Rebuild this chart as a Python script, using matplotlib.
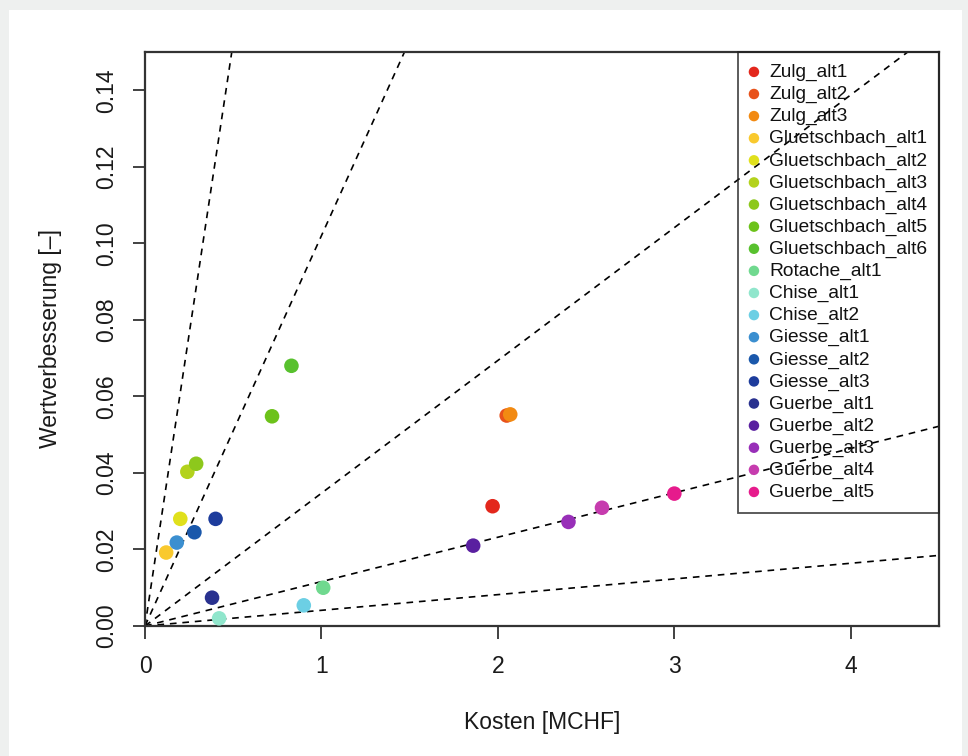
import matplotlib.pyplot as plt
from matplotlib.patches import Rectangle
import numpy as np

plt.rcParams['font.family'] = ['Liberation Sans', 'DejaVu Sans']

# Varianten
namen = ["Zulg_alt1", "Zulg_alt2", "Zulg_alt3",
         "Gluetschbach_alt1", "Gluetschbach_alt2", "Gluetschbach_alt3",
         "Gluetschbach_alt4", "Gluetschbach_alt5", "Gluetschbach_alt6",
         "Rotache_alt1", "Chise_alt1", "Chise_alt2",
         "Giesse_alt1", "Giesse_alt2", "Giesse_alt3",
         "Guerbe_alt1", "Guerbe_alt2", "Guerbe_alt3", "Guerbe_alt4", "Guerbe_alt5"]
kosten = [1.97, 2.05, 2.07,
          0.12, 0.20, 0.24,
          0.29, 0.72, 0.83,
          1.01, 0.42, 0.90,
          0.18, 0.28, 0.40,
          0.38, 1.86, 2.40, 2.59, 3.00]
wert = [0.0313, 0.0550, 0.0553,
        0.0192, 0.0280, 0.0403,
        0.0424, 0.0548, 0.0680,
        0.0100, 0.0020, 0.0054,
        0.0218, 0.0245, 0.0280,
        0.0074, 0.0210, 0.0272, 0.0309, 0.0346]
farben = ["#e3271c", "#e8521b", "#f28a12",
          "#f9c92e", "#e0e01c", "#b3d21c",
          "#8dc81c", "#6cc21a", "#58c12e",
          "#70d98f", "#90e6cc", "#6ccfe4",
          "#3b8fd0", "#1a58ab", "#1d3c9c",
          "#29318f", "#5a20a0", "#982fb8", "#c63cae", "#e61b8c"]

# Steigungen der Referenzlinien (Wert pro MCHF)
steigungen = [0.305, 0.102, 0.0347, 0.0116, 0.0041]

fig = plt.figure(figsize=(9.68, 7.56), dpi=100, facecolor="#eef0ef")
fig.patches.append(Rectangle((9/968, 0), (962-9)/968, (756-10)/756,
                             transform=fig.transFigure, facecolor="white",
                             edgecolor="none", zorder=-10))
ax = fig.add_axes([145/968, 130/756, (939-145)/968, (626-52)/756])
ax.set_facecolor("white")

xs = np.array([0, 5])
for s in steigungen:
    ax.plot(xs, s*xs, color="black", linestyle=(0, (4, 3.5)), linewidth=1.2, zorder=1)

for n, x, y, c in zip(namen, kosten, wert, farben):
    ax.scatter(x, y, s=110, color=c, label=n, edgecolors="none", zorder=3)

ax.set_xlim(0, 4.5)
ax.set_ylim(0, 0.15)
ax.set_xticks([0, 1, 2, 3, 4])
ax.set_yticks(np.arange(0, 0.141, 0.02))
ax.set_yticklabels(["%.2f" % v for v in np.arange(0, 0.141, 0.02)],
                   rotation=90, va="center")
ax.tick_params(length=9, width=1.3, color="#333333", labelsize=16.5, pad=10,
               labelcolor="#1a1a1a")
ax.tick_params(axis="x", pad=12)
for sp in ax.spines.values():
    sp.set_linewidth(1.6)
    sp.set_color("#333333")

ax.set_xlabel("Kosten [MCHF]", fontsize=16.5, color="#1a1a1a")
ax.set_ylabel("Wertverbesserung [\u2013]", fontsize=16.5, color="#1a1a1a")
ax.xaxis.set_label_coords(0.5, -0.148)
ax.yaxis.set_label_coords(-0.104, 0.5)

leg = ax.legend(loc="upper right", bbox_to_anchor=(1, 1), borderaxespad=0,
                fontsize=13.8, frameon=True, fancybox=False, edgecolor="#222222",
                facecolor="none", labelspacing=0.235, handletextpad=0.58,
                handlelength=0.45, borderpad=0.6, markerscale=0.72)
leg.get_frame().set_linewidth(1.3)
for t in leg.get_texts():
    t.set_color("#111111")

plt.savefig("out.png", dpi=100, facecolor=fig.get_facecolor())
